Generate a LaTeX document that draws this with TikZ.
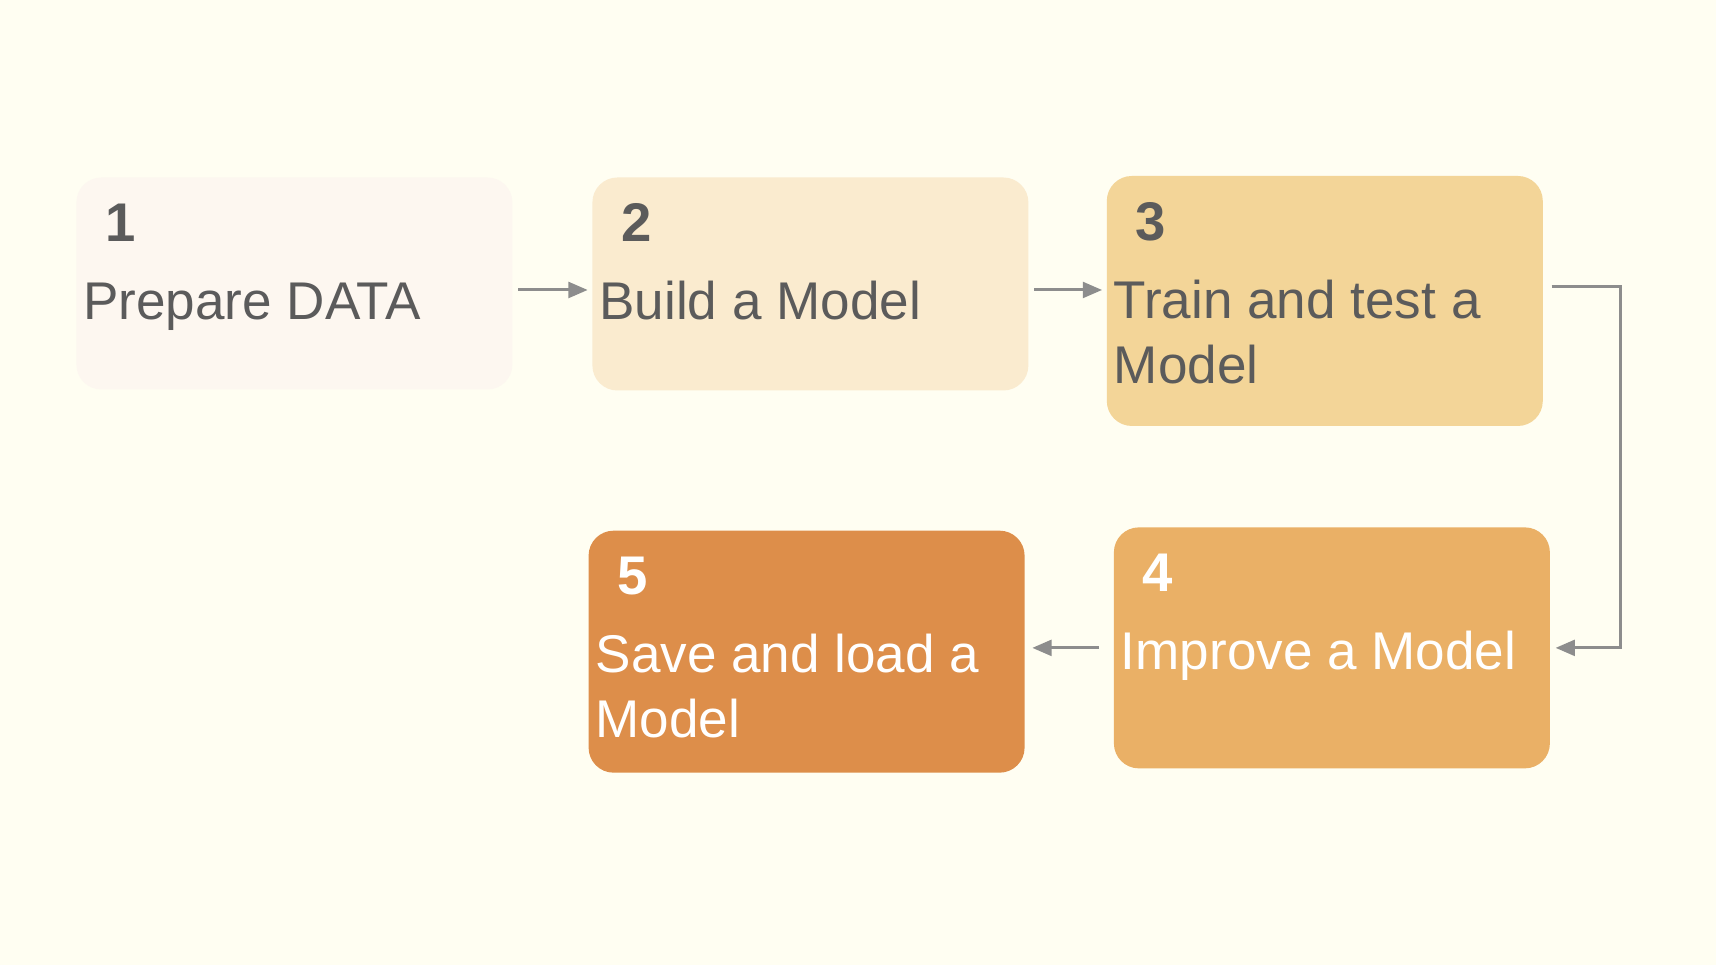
\documentclass[tikz,border=0pt]{standalone}
\usepackage{fontspec}
\setsansfont{Liberation Sans}
\usepackage{xcolor}
\usetikzlibrary{arrows.meta}
\definecolor{bgcream}{HTML}{FFFEF2}
\definecolor{stepone}{HTML}{FDF7F0}
\definecolor{steptwo}{HTML}{FAEBCF}
\definecolor{stepthree}{HTML}{F3D598}
\definecolor{stepfour}{HTML}{EAB066}
\definecolor{stepfive}{HTML}{DD8E4A}
\definecolor{txtgray}{HTML}{5B5B5B}
\definecolor{arrgray}{HTML}{8D8D8D}
\tikzset{
    	every node/.append style={font=\sffamily}}

\begin{document}
\begin{tikzpicture}
  [>={Triangle[length=5.5pt,width=4.5pt]},
  	box/.style={rectangle,rounded corners=0.25cm,draw=none,inner sep=0pt,
  		minimum width=4.36cm},
  	num/.style={anchor=base west,inner sep=0pt,text=txtgray,
  		font=\sffamily\bfseries\fontsize{15.5}{18}\selectfont},
  	lbl/.style={anchor=base west,inner sep=0pt,text=txtgray,align=left,
  		font=\sffamily\fontsize{15.1}{18.5}\selectfont},
  	arr/.style={->,draw=arrgray,line width=0.85pt}
  ]
  \fill [bgcream] (0,0) rectangle (17.16,9.65);
  \useasboundingbox (0,0) rectangle (17.16,9.65);

  \node [box,fill=stepone,minimum height=2.12cm] (b1) at (2.944,6.815) {};
  \node [box,fill=steptwo,minimum height=2.13cm] (b2) at (8.104,6.81) {};
  \node [box,fill=stepthree,minimum height=2.50cm] (b3) at (13.248,6.64) {};
  \node [box,fill=stepfour,minimum height=2.41cm] (b4) at (13.319,3.171) {};
  \node [box,fill=stepfive,minimum height=2.42cm] (b5) at (8.066,3.133) {};

  \node [num] (n1) at ([shift={(0.29,-0.65)}]b1.north west) {1};
  \node [num] (n2) at ([shift={(0.29,-0.65)}]b2.north west) {2};
  \node [num] (n3) at ([shift={(0.29,-0.65)}]b3.north west) {3};
  \node [num,text=white] (n4) at ([shift={(0.29,-0.65)}]b4.north west) {4};
  \node [num,text=white] (n5) at ([shift={(0.29,-0.65)}]b5.north west) {5};

  % two-line labels sit on their last baseline
  \node [lbl] (t1) at ([shift={(0.07,-1.43)}]b1.north west) {Prepare DATA};
  \node [lbl] (t2) at ([shift={(0.07,-1.43)}]b2.north west) {Build a Model};
  \node [lbl] (t3) at ([shift={(0.07,-2.08)}]b3.north west) {Train and test a\\Model};
  \node [lbl,text=white] (t4) at ([shift={(0.07,-1.43)}]b4.north west) {Improve a Model};
  \node [lbl,text=white] (t5) at ([shift={(0.07,-2.08)}]b5.north west) {Save and load a\\Model};

  \draw [arr] ([shift={(0.05,-0.065)}]b1.east) -- ([shift={(-0.04,-0.065)}]b1.east -| b2.west);
  \draw [arr] ([shift={(0.05,-0.06)}]b2.east) -- ([shift={(-0.04,-0.06)}]b2.east -| b3.west);
  \draw [arr] ([shift={(0.08,0.14)}]b3.east) -| ([xshift=0.7cm]b4.east) -- ([xshift=0.05cm]b4.east);
  \draw [arr] ([xshift=-0.14cm]b4.west) -- ([xshift=0.07cm]b4.west -| b5.east);
\end{tikzpicture}
\end{document}
